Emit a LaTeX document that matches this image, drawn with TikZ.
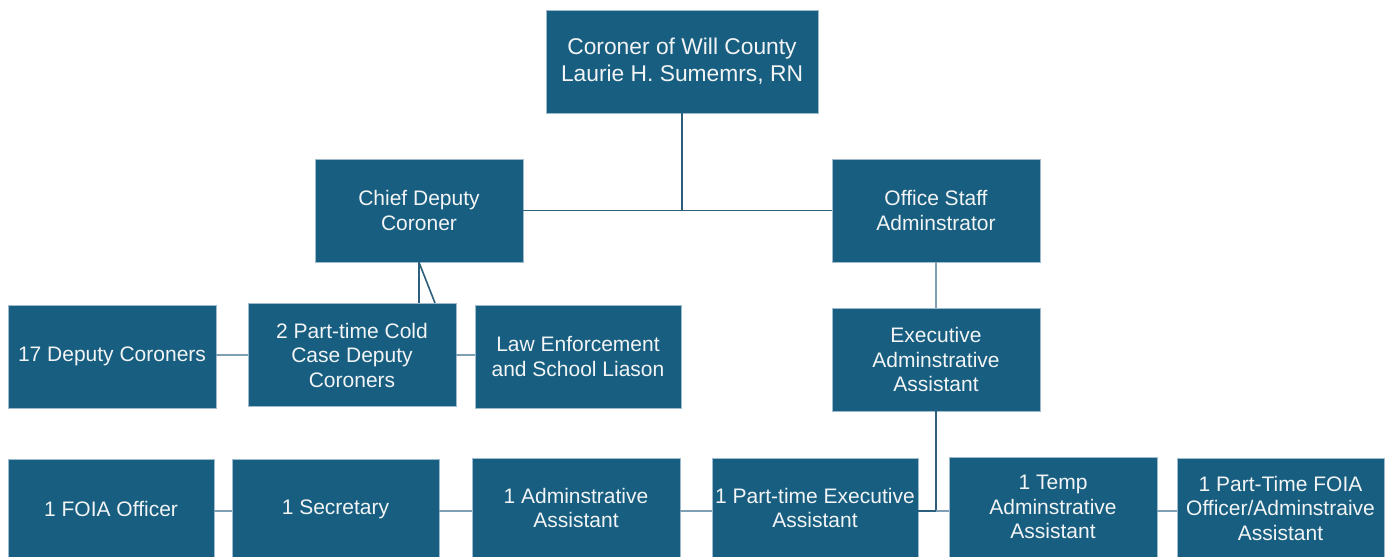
\documentclass[tikz,border=0pt]{standalone}
\usepackage{fontspec}
\setmainfont{Liberation Sans}
\definecolor{boxfill}{HTML}{175E80}
\definecolor{boxline}{HTML}{9DBBCC}
\definecolor{darkline}{HTML}{2C5F7C}
\definecolor{lightline}{HTML}{7E9FB4}
\definecolor{txt}{HTML}{F2F4F5}
\tikzset{
  orgbox/.style={draw=boxline, line width=0.8pt, fill=boxfill, text=txt, align=center,
    inner xsep=0pt, inner ysep=2pt, font=\fontsize{21}{24.5}\selectfont, minimum height=103pt},
  darkconn/.style={draw=darkline, line width=1.6pt},
  lightconn/.style={draw=lightline, line width=2.6pt},
}
\begin{document}
\begin{tikzpicture}[x=1pt,y=-1pt]
\useasboundingbox (0,0) rectangle (1390,557);
\clip (0,0) rectangle (1390,557);
\fill[white] (0,0) rectangle (1390,557);
% top level
\node[orgbox, minimum width=272pt, font=\fontsize{22.8}{27}\selectfont] (coroner) at (682,61.5) {Coroner of Will County\\Laurie H. Sumemrs, RN};
\node[orgbox, minimum width=208pt] (chief) at (419,210.5) {Chief Deputy\\Coroner};
\node[orgbox, minimum width=208pt] (office) at (936,210.5) {Office Staff\\Adminstrator};
% second level
\node[orgbox, minimum width=208pt] (dep17) at (112,356.5) {17 Deputy Coroners};
\node[orgbox, minimum width=208pt] (cold) at (352,355) {2 Part-time Cold\\Case Deputy\\Coroners};
\node[orgbox, minimum width=206pt] (law) at (578,356.5) {Law Enforcement\\and School Liason};
\node[orgbox, minimum width=208pt] (exec) at (936,359.5) {Executive\\Adminstrative\\Assistant};
% bottom row
\node[orgbox, minimum width=206pt, minimum height=100pt] (foia) at (111,509) {1 FOIA Officer};
\node[orgbox, minimum width=207pt, minimum height=100pt] (sec) at (335.5,509) {1 Secretary};
\node[orgbox, minimum width=208pt, minimum height=100pt] (admin) at (576,508) {1 Adminstrative\\Assistant};
\node[orgbox, minimum width=206pt, minimum height=100pt] (ptexec) at (815,508) {1 Part-time Executive\\Assistant};
\node[orgbox, minimum width=208pt, minimum height=100pt] (temp) at (1053,507) {1 Temp\\Adminstrative\\Assistant};
\node[orgbox, minimum width=207pt, minimum height=100pt] (ptfoia) at (1280.5,508) {1 Part-Time FOIA\\Officer/Adminstraive\\Assistant};
% connectors
\coordinate (junction) at (coroner.south |- chief.east);
\draw[darkconn] (coroner.south) -- (junction);
\draw[darkconn] (chief.east) -- (office.west);
\draw[darkconn] (chief.south) -- (chief.south |- cold.north);
\coordinate (diagend) at (435,303);
\draw[darkconn] (chief.south) -- (diagend);
\draw[lightconn] (dep17.east |- cold.west) -- (cold.west);
\draw[lightconn] (cold.east) -- (cold.east -| law.west);
\draw[lightconn] (office.south) -- (exec.north);
\coordinate (bjoin) at (exec.south |- 0,511);
\draw[darkconn, line width=2.6pt] (exec.south) -- (bjoin);
\draw[lightconn] (ptexec.east |- bjoin) -- (temp.west |- bjoin);
\draw[darkconn, line width=2.6pt] (ptexec.east |- bjoin) -- (bjoin);
\draw[lightconn] (foia.east |- 0,511) -- (sec.west |- 0,511);
\draw[lightconn] (sec.east |- 0,511) -- (admin.west |- 0,511);
\draw[lightconn] (admin.east |- 0,511) -- (ptexec.west |- 0,511);
\draw[lightconn] (temp.east |- 0,511) -- (ptfoia.west |- 0,511);
\end{tikzpicture}
\end{document}
